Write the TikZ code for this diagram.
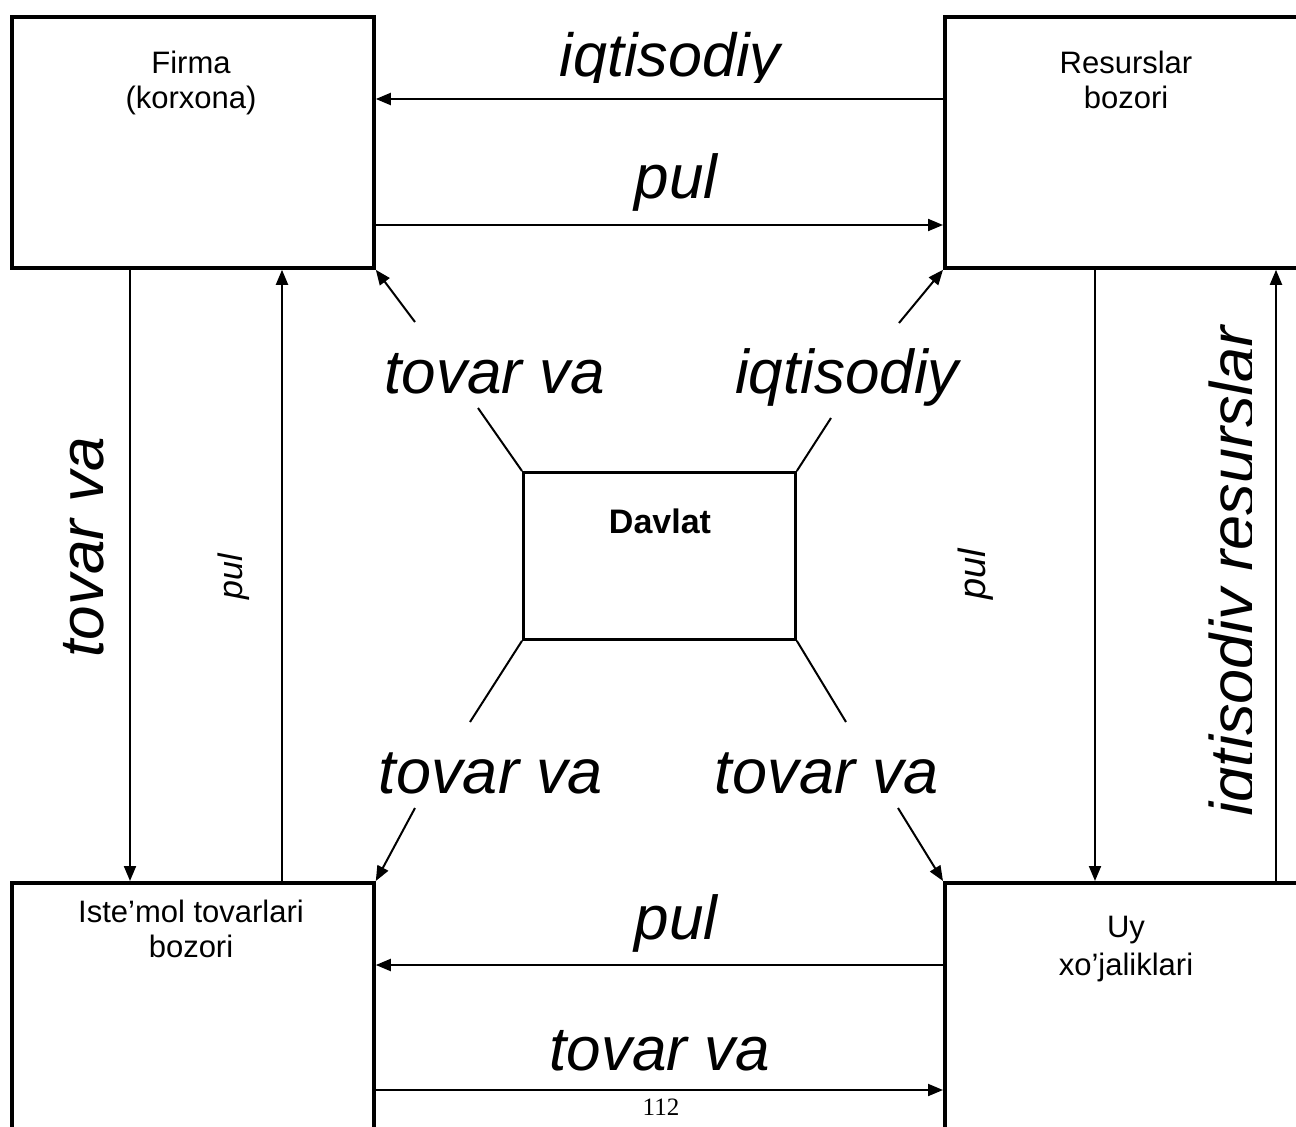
\documentclass[tikz,border=0pt]{standalone}
\usepackage{fontspec}
\setmainfont{Liberation Sans}
\newfontfamily\numfont{Liberation Serif}
\usetikzlibrary{arrows.meta}
\tikzset{
  box/.style={draw, line width=3.8pt, rectangle, inner sep=0pt, anchor=north west},
  govbox/.style={draw, line width=2.8pt, rectangle, inner sep=0pt, anchor=north west},
  flow/.style={line width=2pt, -{Triangle[length=15pt,width=12pt]}},
  plainline/.style={line width=2pt},
  lbl/.style={inner sep=0pt, anchor=base, font=\fontsize{31}{36}\selectfont},
  big/.style={inner sep=0pt, anchor=base, font=\fontsize{#1}{#1}\selectfont\itshape},
}
\begin{document}
\begin{tikzpicture}[x=1pt,y=-1pt]
\clip (0,0) rectangle (1296,1127);
\fill[white] (0,0) rectangle (1296,1127);

% boxes
\node[box, minimum width=362pt, minimum height=251pt] (firma) at (10,15) {};
\node[box, minimum width=362pt, minimum height=251pt] (res) at (943,15) {};
\node[box, minimum width=362pt, minimum height=300pt] (ist) at (10,881) {};
\node[box, minimum width=362pt, minimum height=300pt] (uy) at (943,881) {};
\node[govbox, minimum width=272pt, minimum height=167pt] (davlat) at (522,471) {};

% box texts
\node[lbl] (firma1) at (191,73) {Firma};
\node[lbl] (firma2) at (191,108) {(korxona)};
\node[lbl] (res1) at (1126,73) {Resurslar};
\node[lbl] (res2) at (1126,108) {bozori};
\node[lbl] (ist1) at (191,922) {Iste’mol tovarlari};
\node[lbl] (ist2) at (191,957) {bozori};
\node[lbl] (uy1) at (1126,937) {Uy};
\node[lbl] (uy2) at (1126,975) {xo’jaliklari};
\node[lbl, font=\bfseries\fontsize{34}{36}\selectfont] (dav) at (660,533) {Davlat};

% horizontal flows
\draw[flow] (res.west |- 0,99) -- (firma.east |- 0,99);
\draw[flow] (firma.east |- 0,225) -- (res.west |- 0,225);
\draw[flow] (uy.west |- 0,965) -- (ist.east |- 0,965);
\draw[flow] (ist.east |- 0,1090) -- (uy.west |- 0,1090);

% vertical flows
\draw[flow] (firma.south -| 130,0) -- (ist.north -| 130,0);
\draw[flow] (ist.north -| 282,0) -- (firma.south -| 282,0);
\draw[flow] (res.south -| 1095,0) -- (uy.north -| 1095,0);
\draw[flow] (uy.north -| 1276,0) -- (res.south -| 1276,0);

% diagonal links through the state
\coordinate (d1a) at (478,408); \coordinate (d1b) at (415,322);
\coordinate (d2a) at (831,418); \coordinate (d2b) at (899,323);
\coordinate (d3a) at (470,722); \coordinate (d3b) at (415,808);
\coordinate (d4a) at (846,722); \coordinate (d4b) at (898,808);
\draw[plainline] (davlat.north west) -- (d1a);
\draw[flow] (d1b) -- (firma.south east);
\draw[plainline] (davlat.north east) -- (d2a);
\draw[flow] (d2b) -- (res.south west);
\draw[plainline] (davlat.south west) -- (d3a);
\draw[flow] (d3b) -- (ist.north east);
\draw[plainline] (davlat.south east) -- (d4a);
\draw[flow] (d4b) -- (uy.north west);

% flow labels
\begin{scope}
  \clip (450,0) rectangle (900,82);
  \node[big=61] (lt1) at (670,76) {iqtisodiy};
\end{scope}
\node[big=62] (lt2) at (676,198) {pul};
\node[big=62] (lc1) at (495,393) {tovar va};
\node[big=62] (lc2) at (847,393) {iqtisodiy};
\node[big=63] (lc3) at (491,793) {tovar va};
\node[big=63] (lc4) at (827,793) {tovar va};
\node[big=62] (lb1) at (676,939) {pul};
\node[big=62] (lb2) at (660,1070) {tovar va};
\node[big=62, rotate=90] (lv1) at (103,547) {tovar va};
\node[big=34, rotate=90] (lv2) at (242,577) {pul};
\node[big=38, rotate=90] (lv3) at (985,574) {pul};
\begin{scope}
  \clip (1150,270) rectangle (1251,878);
  \node[big=63, rotate=90] (lv4) at (1254,571) {iqtisodiy resurslar};
\end{scope}

% page number
\node[inner sep=0pt, anchor=base, font=\numfont\fontsize{25}{25}\selectfont] (pg) at (661,1115) {112};
\end{tikzpicture}
\end{document}
